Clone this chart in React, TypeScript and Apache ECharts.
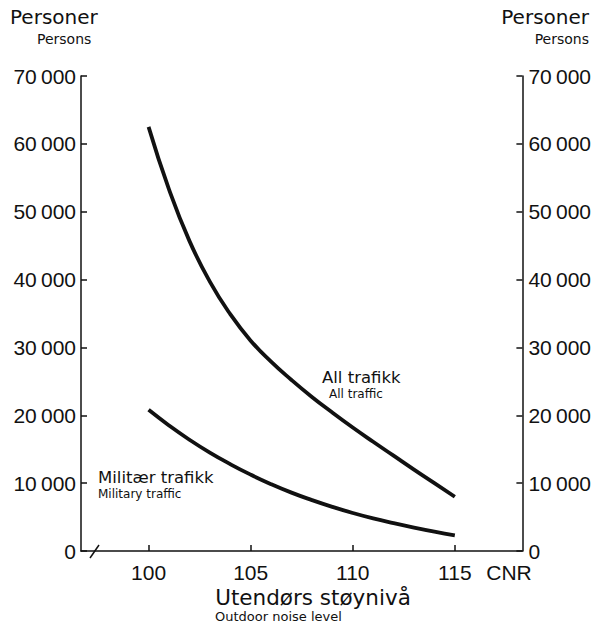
import React, { useEffect, useRef } from "react";
import * as echarts from "echarts";

const cnr = [100, 101, 102, 103, 104, 105, 106, 107, 108, 109, 110, 111, 112, 113, 114, 115];
const allTraffic = [62500, 53300, 45700, 39700, 34900, 31000, 27900, 25200, 22700, 20400, 18200, 16100, 14050, 12000, 10000, 8000];
const militaryTraffic = [20800, 18500, 16400, 14500, 12800, 11250, 9850, 8600, 7500, 6500, 5600, 4800, 4100, 3450, 2850, 2300];
const xTicks = [100, 105, 110, 115];

const NUMFONT = "Liberation Sans";
const FONT = "DejaVu Sans";
const INK = "#111";

function fmt(v: number) {
  return v === 0 ? "0" : `${v / 1000}\u2009000`;
}

export default function App() {
  const ref = useRef<HTMLDivElement>(null);
  useEffect(() => {
    if (!ref.current) return;
    const chart = echarts.init(ref.current, undefined, { renderer: "svg" });
    const yBase = {
      type: "value" as const,
      min: 0,
      max: 70000,
      interval: 10000,
      splitLine: { show: false },
      axisLine: { show: true, lineStyle: { color: INK, width: 1.5 } },
      axisTick: { show: true, inside: true, length: 6, lineStyle: { color: INK, width: 1.5 } },
    };
    const txt = (x: number, y: number, text: string, size: number, align = "left", family = FONT) => ({
      type: "text",
      x,
      y,
      style: { text, font: `${size}px "${family}"`, fill: INK, align, verticalAlign: "middle" },
    });
    chart.setOption({
      animation: false,
      backgroundColor: "#fff",
      textStyle: { fontFamily: NUMFONT, color: INK },
      grid: { left: 81, right: 69, top: 76, bottom: 73 },
      xAxis: {
        type: "value",
        min: 96.69,
        max: 118.31,
        splitLine: { show: false },
        axisLine: { show: true, lineStyle: { color: INK, width: 1.5 } },
        axisTick: {
          show: true,
          inside: true,
          length: 6,
          customValues: xTicks,
          lineStyle: { color: INK, width: 1.5 },
        },
        axisLabel: {
          customValues: xTicks,
          fontSize: 21,
          margin: 11,
          color: INK,
          fontFamily: NUMFONT,
        },
      },
      yAxis: [
        {
          ...yBase,
          position: "left",
          axisLabel: { formatter: fmt, fontSize: 21, margin: 5, color: INK, fontFamily: NUMFONT },
        },
        {
          ...yBase,
          position: "right",
          axisLabel: { formatter: fmt, fontSize: 21, margin: 6, color: INK, fontFamily: NUMFONT },
        },
      ],
      series: [
        {
          type: "line",
          name: "All trafikk",
          data: cnr.map((x, i) => [x, allTraffic[i]]),
          smooth: true,
          showSymbol: false,
          lineStyle: { color: INK, width: 3.8 },
        },
        {
          type: "line",
          name: "Militær trafikk",
          data: cnr.map((x, i) => [x, militaryTraffic[i]]),
          smooth: true,
          showSymbol: false,
          lineStyle: { color: INK, width: 3.8 },
        },
      ],
      graphic: [
        { type: "rect", shape: { x: 92, y: 548, width: 5, height: 6 }, style: { fill: "#fff" } },
        { type: "line", shape: { x1: 90, y1: 558, x2: 99, y2: 545 }, style: { stroke: INK, lineWidth: 1.5 } },
        txt(10, 17, "Personer", 20),
        txt(37, 39, "Persons", 14),
        txt(589, 17, "Personer", 20, "right"),
        txt(589, 39, "Persons", 14, "right"),
        txt(509, 572, "CNR", 21, "center", NUMFONT),
        txt(313, 597, "Utendørs støynivå", 21.5, "center"),
        txt(215, 616, "Outdoor noise level", 13),
        txt(98, 477, "Militær trafikk", 16.5),
        txt(98, 494, "Military traffic", 12),
        txt(322, 377, "All trafikk", 16.5),
        txt(329, 394, "All traffic", 12),
      ],
    });
    return () => chart.dispose();
  }, []);
  return (
    <div
      ref={ref}
      style={{ position: "absolute", left: 0, top: 0, width: 594, height: 624 }}
    />
  );
}
